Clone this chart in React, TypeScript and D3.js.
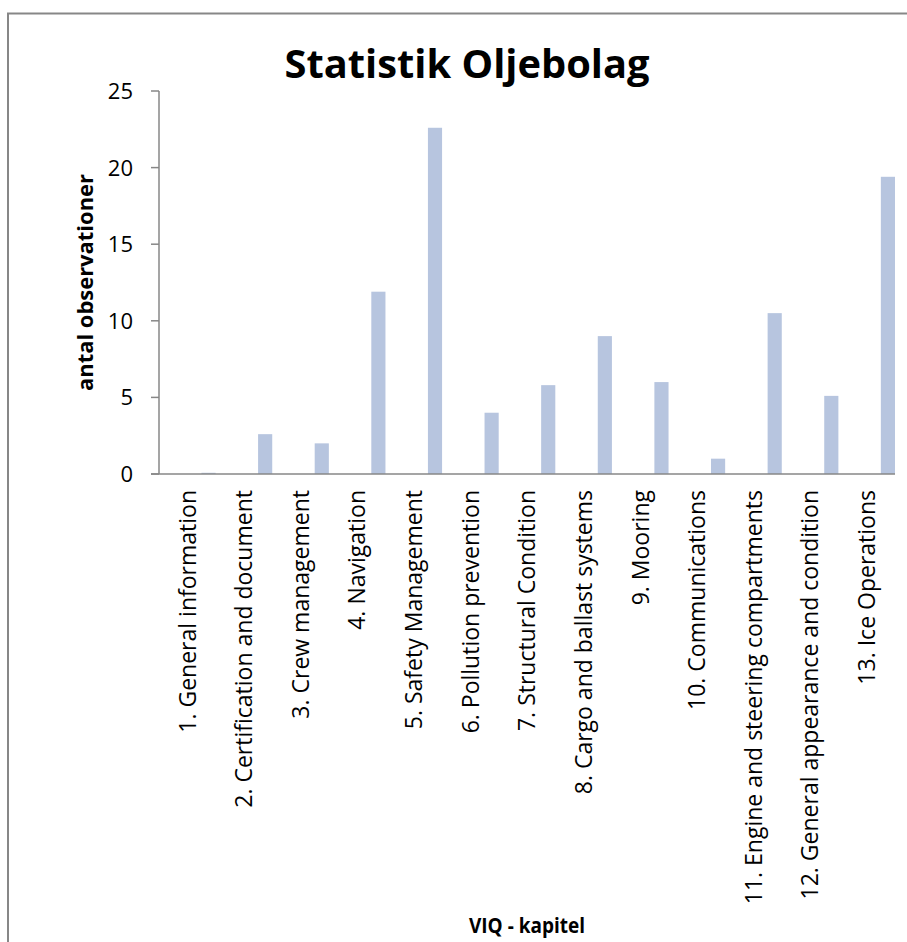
import React from "react";
import * as d3 from "d3";

const categories: string[] = [
  "1. General information",
  "2. Certification and document",
  "3. Crew management",
  "4. Navigation",
  "5. Safety Management",
  "6. Pollution prevention",
  "7. Structural Condition",
  "8. Cargo and ballast systems",
  "9. Mooring",
  "10. Communications",
  "11. Engine and steering compartments",
  "12. General appearance and condition",
  "13. Ice Operations",
];
const values: number[] = [0.08, 2.6, 2.0, 11.9, 22.6, 4.0, 5.8, 9.0, 6.0, 1.0, 10.5, 5.1, 19.4];
const yTicks: number[] = [0, 5, 10, 15, 20, 25];
const title = "Statistik Oljebolag";
const yTitle = "antal observationer";
const xTitle = "VIQ - kapitel";

const W = 907;
const H = 942;
const plot = { left: 159, right: 895, top: 91, bottom: 474 };
const FONT = "'Open Sans', 'Liberation Sans', sans-serif";
const AXIS = "#878787";
const BAR = "#B7C5DF";

export default function App() {
  const x = d3.scaleBand<string>().domain(categories).range([plot.left, plot.right]).padding(0);
  const y = d3.scaleLinear().domain([0, 25]).range([plot.bottom, plot.top]);
  const bw = x.bandwidth();
  const midY = (plot.top + plot.bottom) / 2;
  const midX = (plot.left + plot.right) / 2;

  return (
    <svg
      width={W}
      height={H}
      style={{ position: "absolute", left: 0, top: 0, background: "#fff" }}
      fontFamily={FONT}
    >
      <rect x={0} y={0} width={W} height={H} fill="#fff" />
      <rect x={8} y={13.5} width={W + 40} height={H + 40} fill="none" stroke={AXIS} strokeWidth={2} />

      <text
        x={467}
        y={78}
        textAnchor="middle"
        fontSize={40}
        fontWeight="bold"
        textLength={365}
        lengthAdjust="spacingAndGlyphs"
        fill="#000"
      >
        {title}
      </text>

      {/* bars */}
      {categories.map((c, i) => (
        <rect
          key={c}
          x={(x(c) as number) + bw * 0.75}
          y={y(values[i])}
          width={bw * 0.25}
          height={y(0) - y(values[i])}
          fill={BAR}
        />
      ))}

      {/* y axis */}
      <line x1={plot.left} x2={plot.left} y1={plot.top} y2={plot.bottom} stroke={AXIS} strokeWidth={1.5} />
      {yTicks.map((t) => (
        <g key={t}>
          <line x1={plot.left - 8} x2={plot.left} y1={y(t)} y2={y(t)} stroke={AXIS} strokeWidth={1.5} />
          <text x={133} y={y(t)} dy="0.36em" textAnchor="end" fontSize={22} fill="#000">
            {t}
          </text>
        </g>
      ))}

      {/* x axis */}
      <line x1={plot.left - 8} x2={plot.right} y1={plot.bottom} y2={plot.bottom} stroke={AXIS} strokeWidth={1.5} />
      {categories.map((c) => {
        const cx = (x(c) as number) + bw / 2;
        return (
          <text
            key={c}
            transform={`translate(${cx},490) rotate(-90)`}
            textAnchor="end"
            dy="0.36em"
            fontSize={23}
            fill="#000"
          >
            {c}
          </text>
        );
      })}

      <text
        transform={`translate(85,${midY}) rotate(-90)`}
        textAnchor="middle"
        dy="0.36em"
        fontSize={22}
        fontWeight="bold"
        textLength={217}
        lengthAdjust="spacingAndGlyphs"
        fill="#000"
      >
        {yTitle}
      </text>

      <text
        x={midX}
        y={933}
        textAnchor="middle"
        fontSize={21}
        fontWeight="bold"
        textLength={116}
        lengthAdjust="spacingAndGlyphs"
        fill="#000"
      >
        {xTitle}
      </text>
    </svg>
  );
}
